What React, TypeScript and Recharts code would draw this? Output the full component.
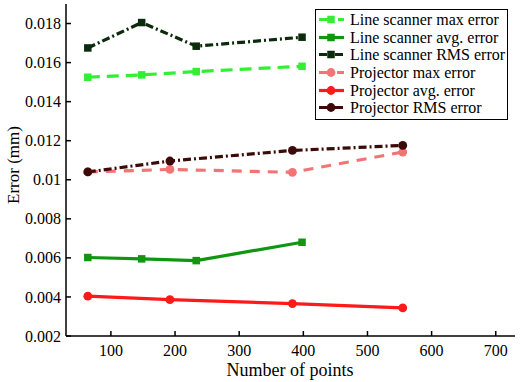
import React from "react";
import { LineChart, Line, XAxis, YAxis } from "recharts";

const scannerX = [64, 148, 233, 398];
const scannerMax = [0.01525, 0.01537, 0.01554, 0.01581];
const scannerAvg = [0.00602, 0.00595, 0.00586, 0.0068];
const scannerRms = [0.01675, 0.01805, 0.01684, 0.0173];

const projectorX = [64, 192, 383, 555];
const projectorMax = [0.0104, 0.01053, 0.01038, 0.01142];
const projectorAvg = [0.00404, 0.00386, 0.00366, 0.00344];
const projectorRms = [0.0104, 0.01096, 0.0115, 0.01176];

const xTicks = [100, 200, 300, 400, 500, 600, 700];
const yTicks = [0.002, 0.004, 0.006, 0.008, 0.01, 0.012, 0.014, 0.016, 0.018];

const FONT = "Liberation Serif, serif";

const toRows = (xs: number[], ys: number[]) => xs.map((x, i) => ({ x, y: ys[i] }));

const series = [
    { name: "Line scanner max error", data: toRows(scannerX, scannerMax), color: "#33ee33", dash: "12 7", shape: "square" },
    { name: "Line scanner avg. error", data: toRows(scannerX, scannerAvg), color: "#119611", dash: "", shape: "square" },
    { name: "Line scanner RMS error", data: toRows(scannerX, scannerRms), color: "#0c2a0c", dash: "8 3 2 3", shape: "square" },
    { name: "Projector max error", data: toRows(projectorX, projectorMax), color: "#f27474", dash: "10 8", shape: "circle" },
    { name: "Projector avg. error", data: toRows(projectorX, projectorAvg), color: "#ff1a1a", dash: "", shape: "circle" },
    { name: "Projector RMS error", data: toRows(projectorX, projectorRms), color: "#3d0a0a", dash: "8 3 2 3", shape: "circle" },
];

const Marker = ({ cx, cy, color, shape }: any) =>
    shape === "square" ? (
        <rect x={cx - 3.75} y={cy - 3.75} width={7.5} height={7.5} fill={color} />
    ) : (
        <circle cx={cx} cy={cy} r={4.4} fill={color} />
    );

const fmtY = (v: number) => String(Number(v.toFixed(3)));

const BottomTick = ({ x, y, payload }: any) => (
    <g>
        <line x1={x} x2={x} y1={y} y2={y - 5} stroke="#000" strokeWidth={1.5} />
        <text x={x} y={y + 20} textAnchor="middle" fontSize={16} style={{ fontFamily: FONT }} fill="#000">
            {payload.value}
        </text>
    </g>
);

const TopTick = ({ x, y }: any) => (
    <line x1={x} x2={x} y1={y} y2={y + 5} stroke="#000" strokeWidth={1.5} />
);

const LeftTick = ({ x, y, payload }: any) => (
    <g>
        <line x1={x} x2={x + 5} y1={y} y2={y} stroke="#000" strokeWidth={1.5} />
        <text x={x - 5} y={y} dy="0.35em" textAnchor="end" fontSize={16} style={{ fontFamily: FONT }} fill="#000">
            {fmtY(payload.value)}
        </text>
    </g>
);

const RightTick = ({ x, y }: any) => (
    <line x1={x} x2={x - 5} y1={y} y2={y} stroke="#000" strokeWidth={1.5} />
);

const LegendBox = () => (
    <div
        style={{
            position: "absolute",
            left: 315,
            top: 9,
            border: "1.5px solid #000",
            background: "#fff",
            padding: "1px 0 2px 0",
            fontFamily: FONT,
            fontSize: 16,
            width: 191,
        }}
    >
        {series.map((s) => (
            <div key={s.name} style={{ display: "flex", alignItems: "center", height: 17.6 }}>
                <svg width={34} height={17} style={{ flex: "none" }}>
                    <line x1={3} x2={28} y1={8.5} y2={8.5} stroke={s.color} strokeWidth={3.2} strokeDasharray={s.dash || undefined} />
                    <Marker cx={15} cy={8.5} color={s.color} shape={s.shape} />
                </svg>
                <span style={{ whiteSpace: "nowrap", lineHeight: "17px" }}>{s.name}</span>
            </div>
        ))}
    </div>
);

export default function App() {
    return (
        <div style={{ position: "absolute", left: 0, top: 0, width: 520, height: 382, background: "#fff" }}>
            <LineChart width={520} height={382} margin={{ top: 4, right: 5, left: 0, bottom: 0 }}>
                <XAxis
                    dataKey="x"
                    type="number"
                    domain={[30, 730]}
                    ticks={xTicks}
                    allowDataOverflow
                    height={46}
                    tickSize={0}
                    tickMargin={0}
                    tickLine={false}
                    tick={<BottomTick />}
                    axisLine={{ stroke: "#000", strokeWidth: 1.5 }}
                    label={() => (
                        <text x={290} y={376} textAnchor="middle" fontSize={18} style={{ fontFamily: FONT }} fill="#000">
                            Number of points
                        </text>
                    )}
                />
                <XAxis
                    xAxisId="top"
                    orientation="top"
                    dataKey="x"
                    type="number"
                    domain={[30, 730]}
                    ticks={xTicks}
                    height={0}
                    tickSize={0}
                    tickMargin={0}
                    tickLine={false}
                    tick={<TopTick />}
                    axisLine={{ stroke: "#000", strokeWidth: 1.5 }}
                />
                <YAxis
                    type="number"
                    domain={[0.002, 0.019]}
                    ticks={yTicks}
                    allowDataOverflow
                    width={66}
                    tickSize={0}
                    tickMargin={0}
                    tickLine={false}
                    tick={<LeftTick />}
                    axisLine={{ stroke: "#000", strokeWidth: 1.5 }}
                    label={() => (
                        <text
                            x={19}
                            y={165}
                            transform="rotate(-90 19 165)"
                            textAnchor="middle"
                            fontSize={17}
                            style={{ fontFamily: FONT }}
                            fill="#000"
                        >
                            Error (mm)
                        </text>
                    )}
                />
                <YAxis
                    yAxisId="right"
                    orientation="right"
                    type="number"
                    domain={[0.002, 0.019]}
                    ticks={yTicks}
                    width={0}
                    tickSize={0}
                    tickMargin={0}
                    tickLine={false}
                    tick={<RightTick />}
                    axisLine={{ stroke: "#000", strokeWidth: 1.5 }}
                />
                {series.map((s) => (
                    <Line
                        key={s.name}
                        data={s.data}
                        dataKey="y"
                        name={s.name}
                        type="linear"
                        stroke={s.color}
                        strokeWidth={3.2}
                        strokeDasharray={s.dash || undefined}
                        dot={(p: any) => <Marker key={p.index} cx={p.cx} cy={p.cy} color={s.color} shape={s.shape} />}
                        activeDot={false}
                        isAnimationActive={false}
                    />
                ))}
            </LineChart>
            <LegendBox />
        </div>
    );
}
